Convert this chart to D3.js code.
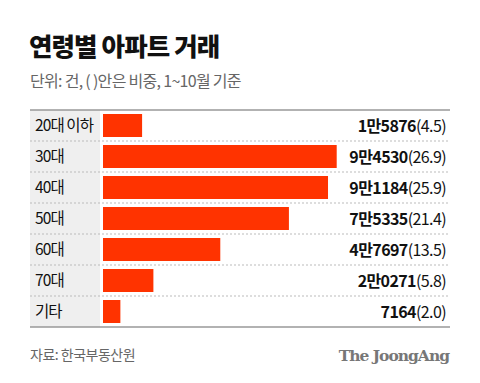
<!DOCTYPE html>
<html><head><meta charset="utf-8">
<script src="https://cdn.jsdelivr.net/npm/d3@7"></script>
<style>body{margin:0;background:#fff;} svg{display:block;}</style>
</head><body>
<script>
const categories = ["20대 이하","30대","40대","50대","60대","70대","기타"];
const counts = ["1만5876","9만4530","9만1184","7만5335","4만7697","2만0271","7164"];
const shares = [4.5,26.9,25.9,21.4,13.5,5.8,2.0];

(function(){
const W=480,H=383;
const svg=d3.select("body").append("svg").attr("width",W).attr("height",H);
const font="'Noto Sans CJK KR','Noto Sans',sans-serif";

svg.append("text").attr("x",29).attr("y",56).text("연령별 아파트 거래")
  .attr("font-family",font).attr("font-weight",900).attr("font-size",25.5).attr("fill","#111").attr("letter-spacing",-0.9);
svg.append("text").attr("x",30).attr("y",87).text("단위: 건, ( )안은 비중, 1~10월 기준")
  .attr("font-family",font).attr("font-size",16).attr("fill","#666").attr("letter-spacing",-0.7);

const left=30,right=450,topY=110,bottomY=327;
const y=d3.scaleBand().domain(categories).range([topY,bottomY]).paddingInner(0).paddingOuter(0);
const x=d3.scaleLinear().domain([0,26.9]).range([103,336.7]);

svg.append("rect").attr("x",left).attr("y",topY).attr("width",70).attr("height",bottomY-topY).attr("fill","#efefef");

svg.selectAll("line.sep").data(categories.slice(1)).enter().append("line")
  .attr("x1",left).attr("x2",right).attr("y1",d=>y(d)).attr("y2",d=>y(d))
  .attr("stroke","#bbb").attr("stroke-width",1).attr("stroke-dasharray","2,2");

svg.selectAll("rect.bar").data(categories).enter().append("rect")
  .attr("x",x(0)).attr("y",d=>y(d)+4).attr("height",y.bandwidth()-8)
  .attr("width",(d,i)=>x(shares[i])-x(0)).attr("fill","#ff3300");

svg.selectAll("text.cat").data(categories).enter().append("text")
  .attr("x",35).attr("y",d=>y(d)+y.bandwidth()/2+5.5).text(d=>d)
  .attr("font-family",font).attr("font-size",15.5).attr("fill","#111").attr("letter-spacing",-0.9);

const vt=svg.selectAll("text.val").data(categories).enter().append("text")
  .attr("x",446).attr("y",d=>y(d)+y.bandwidth()/2+6).attr("text-anchor","end")
  .attr("font-family",font).attr("font-size",16).attr("fill","#111").attr("letter-spacing",-0.6);
vt.append("tspan").attr("font-weight",700).text((d,i)=>counts[i]);
vt.append("tspan").attr("font-weight",400).text((d,i)=>"("+shares[i].toFixed(1)+")");

[topY,bottomY].forEach(v=>svg.append("line").attr("x1",left).attr("x2",right).attr("y1",v).attr("y2",v)
  .attr("stroke","#999").attr("stroke-width",1.5));

svg.append("text").attr("x",30).attr("y",360).text("자료: 한국부동산원")
  .attr("font-family",font).attr("font-size",14).attr("fill","#666").attr("letter-spacing",-0.5);
svg.append("text").attr("x",449).attr("y",361).attr("text-anchor","end").text("The JoongAng")
  .attr("font-family","'DejaVu Serif','Liberation Serif',serif").attr("font-weight",700).attr("font-size",15.5)
  .attr("fill","#777").attr("letter-spacing",-1);
})();
</script>
</body></html>
